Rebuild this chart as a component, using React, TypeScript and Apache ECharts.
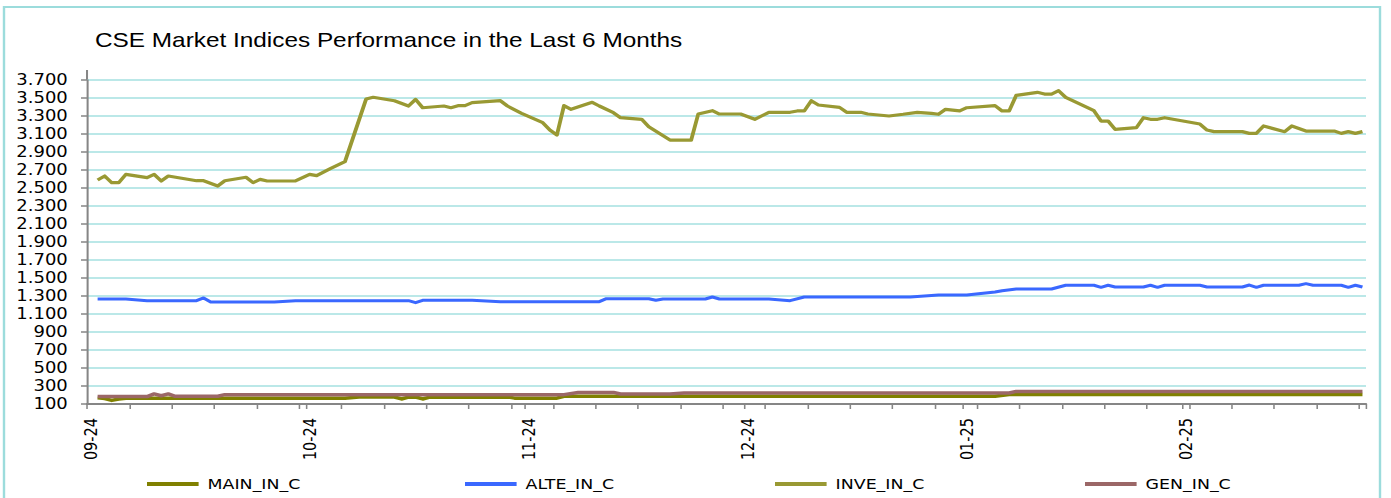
import React, { useEffect, useRef } from "react";
import * as echarts from "echarts";

// ---- Data ----
// Categories: calendar days starting 2024-09-01 (181 days, through 2025-02-28)
const START_DATE = Date.UTC(2024, 8, 1);
const DAY_COUNT = 181;
const CATEGORIES: string[] = Array.from({ length: DAY_COUNT }, (_, i) =>
  new Date(START_DATE + i * 86400000).toISOString().slice(0, 10)
);

const SERIES_NAMES = ["MAIN_IN_C", "ALTE_IN_C", "INVE_IN_C", "GEN_IN_C"];

// [day index, value]
const MAIN_IN_C: [number, number][] = [
  [1, 168], [2, 160], [3, 140], [4, 155], [5, 165], [36, 165], [38, 178], [43, 178],
  [44, 156], [45, 176], [46, 178], [47, 156], [48, 176], [59, 178], [60, 165], [66, 165],
  [67, 186], [128, 186], [130, 205], [180, 205],
];

const ALTE_IN_C: [number, number][] = [
  [1, 1267], [5, 1267], [8, 1248], [15, 1248], [16, 1278], [17, 1233], [26, 1233], [29, 1248],
  [45, 1248], [46, 1226], [47, 1252], [54, 1252], [58, 1237], [72, 1237], [73, 1270], [79, 1270],
  [80, 1252], [81, 1267], [87, 1267], [88, 1289], [89, 1267], [96, 1267], [99, 1248], [101, 1289],
  [116, 1289], [120, 1311], [124, 1311], [128, 1344], [129, 1359], [131, 1378], [136, 1378],
  [138, 1419], [142, 1419], [143, 1396], [144, 1419], [145, 1400], [149, 1400], [150, 1419],
  [151, 1396], [152, 1419], [157, 1419], [158, 1400], [163, 1400], [164, 1422], [165, 1396],
  [166, 1419], [171, 1419], [172, 1437], [173, 1419], [177, 1419], [178, 1396], [179, 1419],
  [180, 1400],
];

const INVE_IN_C: [number, number][] = [
  [1, 2589], [2, 2633], [3, 2559], [4, 2559], [5, 2652], [8, 2615], [9, 2652], [10, 2578],
  [11, 2633], [15, 2581], [16, 2581], [18, 2522], [19, 2581], [22, 2619], [23, 2559], [24, 2596],
  [25, 2578], [29, 2578], [31, 2652], [32, 2637], [34, 2718], [36, 2792], [39, 3489], [40, 3508],
  [43, 3470], [45, 3411], [46, 3485], [47, 3392], [50, 3411], [51, 3392], [52, 3415], [53, 3415],
  [54, 3448], [58, 3470], [59, 3411], [61, 3330], [64, 3226], [65, 3144], [66, 3089], [67, 3415],
  [68, 3374], [71, 3452], [72, 3411], [74, 3337], [75, 3281], [78, 3263], [79, 3181], [82, 3033],
  [85, 3033], [86, 3322], [88, 3359], [89, 3322], [92, 3322], [94, 3263], [96, 3341], [99, 3341],
  [100, 3356], [101, 3356], [102, 3470], [103, 3422], [106, 3396], [107, 3341], [109, 3341],
  [110, 3322], [113, 3300], [115, 3319], [117, 3341], [119, 3330], [120, 3319], [121, 3374],
  [123, 3356], [124, 3392], [128, 3415], [129, 3356], [130, 3356], [131, 3530], [134, 3563],
  [135, 3544], [136, 3544], [137, 3581], [138, 3507], [142, 3359], [143, 3244], [144, 3244],
  [145, 3152], [148, 3170], [149, 3281], [150, 3263], [151, 3263], [152, 3281], [157, 3211],
  [158, 3144], [159, 3126], [163, 3126], [164, 3107], [165, 3107], [166, 3189], [169, 3126],
  [170, 3189], [172, 3133], [176, 3133], [177, 3107], [178, 3126], [179, 3107], [180, 3126],
];

const GEN_IN_C: [number, number][] = [
  [1, 182], [8, 182], [9, 212], [10, 192], [11, 212], [12, 186], [18, 186], [19, 204],
  [67, 204], [69, 228], [74, 229], [75, 211], [82, 211], [84, 222], [130, 222], [131, 240],
  [180, 240],
];

const Y_MIN = 100;
const Y_MAX = 3700;
const Y_STEP = 200;

const COLORS = ["#808000", "#3a68ff", "#999933", "#9b6767"];

// ---- Layout ----
const FULL_W = 1391;
const H = 498;
const W = 1159; // natural width, stretched horizontally to FULL_W
const S = FULL_W / W;

function fmtY(v: number): string {
  if (v >= 1000) {
    const th = Math.floor(v / 1000);
    const rest = String(v % 1000).padStart(3, "0");
    return `${th}.${rest}`;
  }
  return String(v);
}

function fmtX(v: string): string {
  return `${v.slice(5, 7)}-${v.slice(2, 4)}`;
}

export default function App() {
  const ref = useRef<HTMLDivElement>(null);

  useEffect(() => {
    document.body.style.margin = "0";
    if (!ref.current) return;
    const chart = echarts.init(ref.current, undefined, { renderer: "svg" });
    const gridLeft = 72.5;
    const gridRight = W - 1366 / S;
    const seriesData = [MAIN_IN_C, ALTE_IN_C, INVE_IN_C, GEN_IN_C];
    const widths = [3.5, 3, 3.2, 3.5];
    const legendLefts = [147, 465, 775, 1085].map((x) => x / S);

    const option: any = {
      animation: false,
      backgroundColor: "#ffffff",
      title: {
        text: "CSE Market Indices Performance in the Last 6 Months",
        left: 95 / S,
        top: 30,
        padding: 0,
        textStyle: {
          fontFamily: "Liberation Sans",
          fontSize: 20.3,
          fontWeight: "normal",
          color: "#000000",
        },
      },
      legend: SERIES_NAMES.map((name, i) => ({
        data: [name],
        left: legendLefts[i],
        top: 476.5,
        padding: 0,
        icon: "rect",
        itemWidth: 43,
        itemHeight: 4,
        textStyle: {
          fontFamily: "DejaVu Sans",
          fontSize: 14.5,
          color: "#000000",
          padding: [0, 0, 0, 2.5],
        },
      })),
      grid: {
        left: gridLeft,
        right: gridRight,
        top: 80,
        bottom: H - 404,
        containLabel: false,
      },
      xAxis: {
        type: "category",
        data: CATEGORIES,
        boundaryGap: true,
        axisLine: { show: true, lineStyle: { color: "#868686", width: 2 } },
        axisTick: {
          show: true,
          length: 5,
          interval: (i: number) => i % 6 === 0 || i % 31 === 0,
          lineStyle: { color: "#868686", width: 1.3 },
        },
        axisLabel: {
          interval: (i: number) => i % 31 === 0,
          rotate: 90,
          margin: 14,
          fontFamily: "DejaVu Sans",
          fontSize: 14.5,
          color: "#000000",
          formatter: (v: string) => fmtX(v),
        },
        splitLine: { show: false },
      },
      yAxis: {
        type: "value",
        min: Y_MIN,
        max: Y_MAX,
        interval: Y_STEP,
        axisLine: { show: true, lineStyle: { color: "#868686", width: 1.7 } },
        axisTick: { show: true, length: 5, lineStyle: { color: "#868686", width: 1.5 } },
        axisLabel: {
          margin: 16,
          fontFamily: "DejaVu Sans",
          fontSize: 15,
          color: "#000000",
          formatter: (v: number) => fmtY(v),
        },
        splitLine: { show: true, lineStyle: { color: "#a5e1e1", width: 1.5 } },
      },
      graphic: [
        {
          type: "rect",
          shape: { x: 4 / S, y: 7, width: (1380 - 4) / S, height: 520 },
          style: { fill: "none", stroke: "#9cdcdc", lineWidth: 2 },
          silent: true,
          z: -1,
        },
        {
          type: "line",
          shape: { x1: gridLeft, y1: 70, x2: gridLeft, y2: 80 },
          style: { stroke: "#868686", lineWidth: 1.7 },
          silent: true,
        },
      ],
      series: SERIES_NAMES.map((name, i) => ({
        name,
        type: "line",
        data: seriesData[i],
        showSymbol: false,
        symbol: "none",
        color: COLORS[i],
        lineStyle: { color: COLORS[i], width: widths[i], join: "round" },
        z: 2 + i,
      })),
    };

    chart.setOption(option);
    return () => {
      chart.dispose();
    };
  }, []);

  return (
    <div style={{ width: FULL_W, height: H, overflow: "hidden", position: "relative", background: "#fff" }}>
      <div
        ref={ref}
        style={{
          width: W,
          height: H,
          transform: `scaleX(${S})`,
          transformOrigin: "0 0",
        }}
      />
    </div>
  );
}
